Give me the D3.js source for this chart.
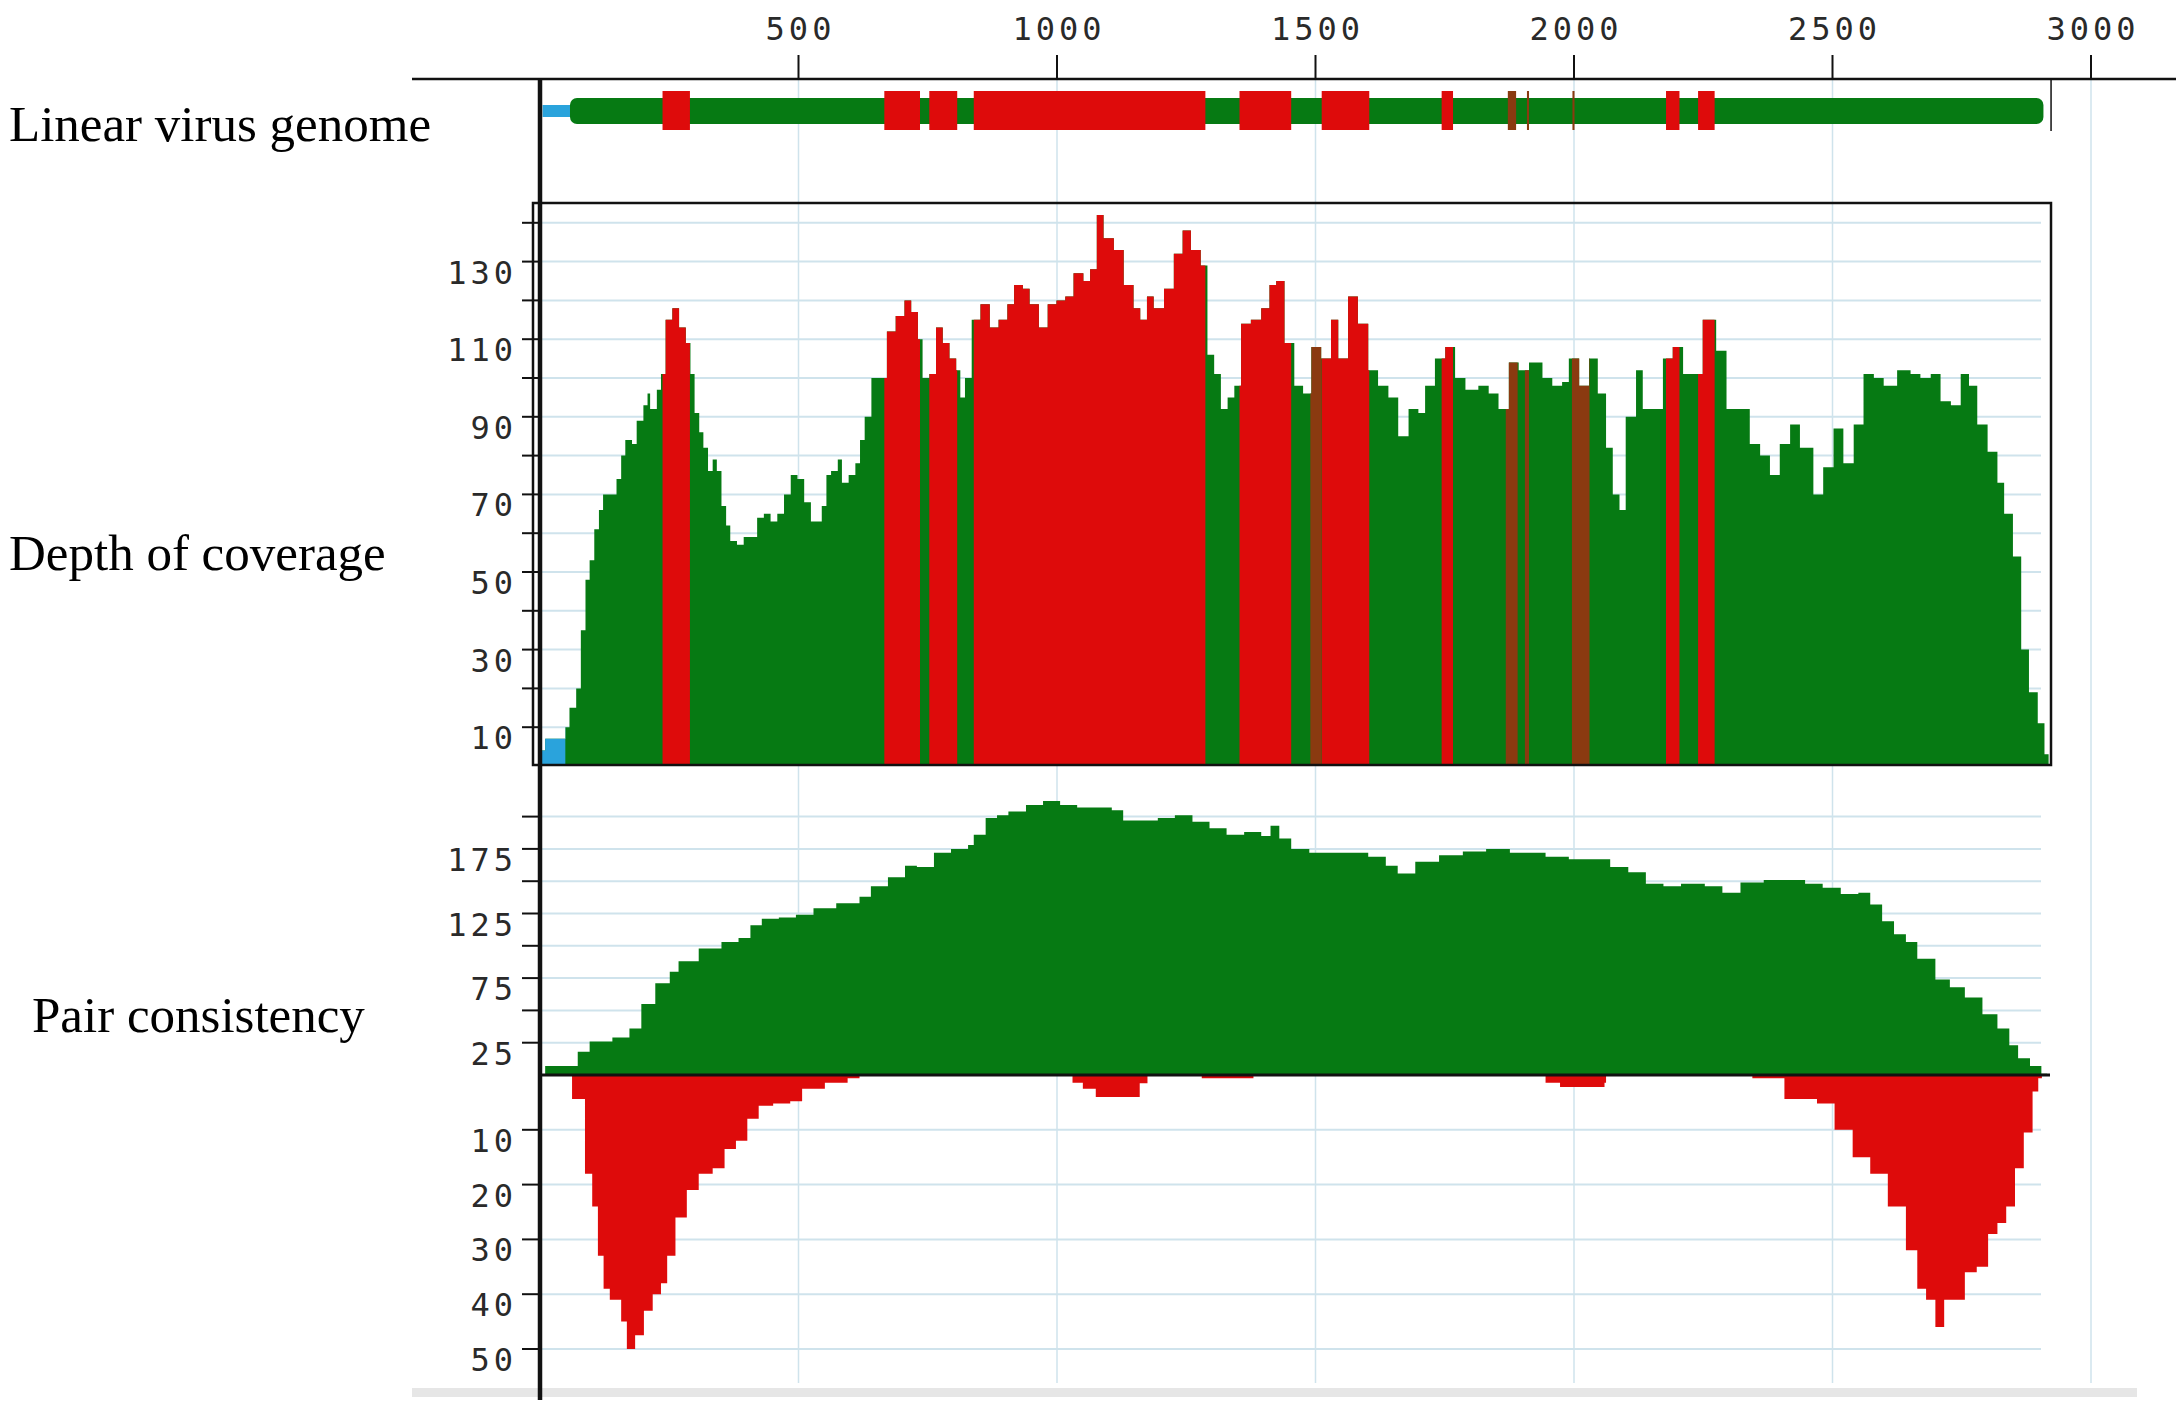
<!DOCTYPE html>
<html><head><meta charset="utf-8">
<script src="https://cdn.jsdelivr.net/npm/d3@7"></script>
<style>html,body{margin:0;padding:0;background:#fff;}svg{display:block;}</style>
</head><body>
<script>
// ---------------- DATA ----------------
const xTickValues = [500, 1000, 1500, 2000, 2500, 3000];
const depthTickValues = [10,20,30,40,50,60,70,80,90,100,110,120,130,140];
const depthTickLabels = [10,30,50,70,90,110,130];
const pairPosTickValues = [25,50,75,100,125,150,175,200];
const pairPosTickLabels = [25,75,125,175];
const pairNegTickValues = [10,20,30,40,50];
const trackTitles = ["Linear virus genome","Depth of coverage","Pair consistency"];

const genomeLength = 2915;
const genomeBlue = [5, 58];
const genomeBody = [58, 2908];
const lowRegions = [[237,290],[666,735],[753,807],[839,1287],[1353,1453],[1512,1604],[1744,1766],[2178,2204],[2240,2272]];
const genomeMarks = [[1872,1888],[1909,1913],[1997,2001]];
const mixedRegions = [[1490,1512],[1868,1891],[1905,1913],[1996,2030]];

const depthPos = [0,10,49,57,70,79,88,96,105,114,122,135,148,157,165,178,187,200,208,213,226,234,243,256,269,282,291,299,308,316,325,334,342,351,360,368,381,394,407,420,433,446,459,472,485,498,511,524,537,545,554,563,576,584,597,610,619,628,641,658,671,688,705,718,731,740,753,766,779,792,805,813,822,835,852,870,887,904,917,934,947,965,982,999,1016,1032,1051,1064,1077,1090,1110,1129,1148,1161,1174,1187,1207,1226,1243,1259,1278,1291,1304,1317,1330,1343,1356,1375,1395,1411,1424,1440,1459,1476,1492,1511,1530,1544,1563,1582,1602,1621,1641,1660,1680,1699,1712,1731,1751,1770,1790,1815,1835,1854,1874,1893,1913,1939,1958,1977,1990,2010,2029,2046,2062,2075,2088,2100,2120,2133,2152,2172,2191,2211,2230,2249,2262,2275,2295,2321,2340,2360,2379,2398,2418,2437,2463,2482,2502,2521,2541,2560,2580,2599,2625,2651,2670,2690,2709,2729,2748,2764,2780,2800,2819,2832,2849,2865,2880,2897,2910,2918];
const depthVal = [4,7,10,15,20,35,48,53,61,66,70,70,74,80,84,83,89,93,96,92,97,101,115,118,113,109,101,91,86,82,76,79,76,67,62,58,57,59,59,64,65,63,65,70,75,74,68,63,63,67,75,76,79,73,75,78,84,90,100,100,112,116,120,117,110,100,101,113,109,105,102,95,100,115,119,113,115,119,124,123,119,113,119,120,121,127,125,128,142,136,133,124,118,115,121,118,123,132,138,133,129,106,101,92,95,98,114,115,118,124,125,109,98,96,108,105,115,105,121,114,102,98,95,85,92,91,98,105,108,100,97,98,96,92,104,102,104,100,98,99,105,98,105,96,82,70,66,90,102,92,92,105,108,101,101,115,115,107,92,92,83,80,75,83,88,82,70,77,87,78,88,101,100,98,102,101,100,101,94,93,101,98,88,81,73,65,54,30,19,11,3,0];

const pairPosX = [0,10,62,73,96,140,173,196,223,251,268,307,351,384,407,429,462,495,529,573,618,640,673,706,729,762,795,828,839,862,884,906,940,973,1006,1039,1073,1106,1128,1162,1195,1228,1262,1295,1328,1362,1395,1413,1430,1453,1488,1522,1556,1602,1636,1659,1693,1739,1785,1830,1876,1910,1945,1990,2036,2070,2105,2139,2173,2207,2253,2287,2322,2367,2413,2447,2481,2516,2550,2573,2596,2619,2642,2664,2699,2727,2756,2790,2819,2842,2859,2882,2904,2915];
const pairPosVal = [0,7,7,18,26,29,36,55,71,80,88,98,103,106,116,121,122,124,129,133,138,146,153,162,161,172,175,178,186,199,201,204,209,212,209,207,207,205,197,197,199,201,196,191,186,188,185,193,183,175,172,172,172,169,162,156,165,170,173,175,172,172,169,167,167,161,157,148,146,148,146,141,149,151,151,148,145,140,141,132,119,109,103,90,74,68,60,47,36,23,13,7,1,0];

const pairNegX = [0,60,62,85,87,101,112,123,135,157,168,184,201,218,234,246,262,284,307,334,357,379,401,423,451,484,507,551,595,618,1006,1030,1050,1075,1140,1160,1175,1278,1280,1378,1380,1944,1945,1973,2047,2059,2062,2344,2345,2405,2407,2470,2504,2539,2573,2607,2642,2664,2681,2699,2716,2739,2756,2779,2801,2819,2836,2853,2870,2887,2898,2905];
const pairNegVal = [0,0,4.4,4.4,18,24,33,39,41,45,50,47.5,43,40,38,33,26,21,18,17,13.5,12,8,5.6,5.2,4.8,2.5,1.4,0.6,0,0,1.4,2.5,4,4,1.5,0,0,0.6,0.6,0,0,1.4,2.2,2.2,1.4,0,0,0.6,0.6,4.4,5.2,10,15,18,24,32,39,41,46,41,41,36,35,29,27,24,17,10.5,3,0.6,0];

// ---------------- LAYOUT ----------------
const W = 2176, H = 1409;
const COL = {green:"#067a13", red:"#de0b0b", brown:"#8a3a10", blue:"#2aa3dc", grid:"#cfe3ec", axis:"#111"};
const svg = d3.select("body").append("svg").attr("width", W).attr("height", H);

const x = d3.scaleLinear().domain([0, 3000]).range([540, 2091]);
const yDepth = d3.scaleLinear().domain([0, 145]).range([766, 203.4]);
const yPairPos = d3.scaleLinear().domain([0, 200]).range([1075, 1075 - 200*1.292]);
const yPairNeg = d3.scaleLinear().domain([0, 50]).range([1075, 1075 + 50*5.48]);

const monoFont = "'DejaVu Sans Mono', monospace";
const tickFont = sel => sel.attr("font-family", monoFont).attr("font-size", 32)
  .attr("letter-spacing", 4).attr("fill", "#2a2a2a");

// vertical grid lines
svg.append("g").selectAll("line").data(xTickValues).join("line")
  .attr("x1", d => x(d)).attr("x2", d => x(d)).attr("y1", 79).attr("y2", 1383)
  .attr("stroke", COL.grid).attr("stroke-width", 1.5);

// horizontal grid lines
svg.append("g").selectAll("line").data(depthTickValues).join("line")
  .attr("x1", 540).attr("x2", 2041).attr("y1", d => yDepth(d)).attr("y2", d => yDepth(d))
  .attr("stroke", COL.grid).attr("stroke-width", 2);
svg.append("g").selectAll("line").data(pairPosTickValues).join("line")
  .attr("x1", 540).attr("x2", 2041).attr("y1", d => yPairPos(d)).attr("y2", d => yPairPos(d))
  .attr("stroke", COL.grid).attr("stroke-width", 2);
svg.append("g").selectAll("line").data(pairNegTickValues).join("line")
  .attr("x1", 540).attr("x2", 2041).attr("y1", d => yPairNeg(d)).attr("y2", d => yPairNeg(d))
  .attr("stroke", COL.grid).attr("stroke-width", 2);

// bottom grey strip
svg.append("rect").attr("x", 412).attr("y", 1388).attr("width", 1725).attr("height", 9).attr("fill", "#e6e6e6");

// ---- top axis ----
svg.append("line").attr("x1", 412).attr("x2", W).attr("y1", 79).attr("y2", 79)
  .attr("stroke", COL.axis).attr("stroke-width", 2.5);
svg.append("g").selectAll("line").data(xTickValues).join("line")
  .attr("x1", d => x(d)).attr("x2", d => x(d)).attr("y1", 55).attr("y2", 79)
  .attr("stroke", COL.axis).attr("stroke-width", 2);
svg.append("g").selectAll("text").data(xTickValues).join("text")
  .attr("x", d => x(d) + 2).attr("y", 31).attr("text-anchor", "middle").attr("dominant-baseline", "middle")
  .call(tickFont).text(d => d);

// ---- genome track ----
const gG = svg.append("g");
gG.append("rect").attr("x", x(genomeBlue[0])).attr("width", x(genomeBlue[1]) - x(genomeBlue[0]))
  .attr("y", 105).attr("height", 12).attr("fill", COL.blue);
gG.append("rect").attr("x", x(genomeBody[0])).attr("width", x(genomeBody[1]) - x(genomeBody[0]))
  .attr("y", 98).attr("height", 26).attr("rx", 7).attr("fill", COL.green);
gG.selectAll("rect.low").data(lowRegions).join("rect").attr("class", "low")
  .attr("x", d => x(d[0])).attr("width", d => x(d[1]) - x(d[0]))
  .attr("y", 91).attr("height", 39).attr("fill", COL.red);
gG.selectAll("rect.mark").data(genomeMarks).join("rect").attr("class", "mark")
  .attr("x", d => x(d[0])).attr("width", d => x(d[1]) - x(d[0]))
  .attr("y", 91).attr("height", 39).attr("fill", COL.brown);
gG.append("line").attr("x1", x(genomeLength) + 4).attr("x2", x(genomeLength) + 4).attr("y1", 79).attr("y2", 131)
  .attr("stroke", COL.axis).attr("stroke-width", 1.5);

// ---- depth of coverage ----
const defs = svg.append("defs");
function clipFor(id, ranges, y0, y1) {
  const cp = defs.append("clipPath").attr("id", id);
  ranges.forEach(r => cp.append("rect").attr("x", x(r[0])).attr("width", x(r[1]) - x(r[0]))
    .attr("y", y0).attr("height", y1 - y0));
}
clipFor("clipLow", lowRegions, 150, 800);
clipFor("clipMix", mixedRegions, 150, 800);
clipFor("clipBlue", [[0, 49]], 150, 800);

const depthData = depthPos.map((p, i) => ({p, v: depthVal[i]}));
const depthArea = d3.area().curve(d3.curveStepAfter)
  .x(d => x(d.p)).y0(yDepth(0)).y1(d => yDepth(d.v));
const dg = svg.append("g");
dg.append("path").datum(depthData).attr("d", depthArea).attr("fill", COL.green);
dg.append("path").datum(depthData).attr("d", depthArea).attr("fill", COL.red).attr("clip-path", "url(#clipLow)");
dg.append("path").datum(depthData).attr("d", depthArea).attr("fill", COL.brown).attr("clip-path", "url(#clipMix)");
dg.append("path").datum(depthData).attr("d", depthArea).attr("fill", COL.blue).attr("clip-path", "url(#clipBlue)");

svg.append("rect").attr("x", 533).attr("y", 203).attr("width", 2051 - 533).attr("height", 765 - 203)
  .attr("fill", "none").attr("stroke", COL.axis).attr("stroke-width", 2.5);

svg.append("g").selectAll("line").data(depthTickValues).join("line")
  .attr("x1", 522).attr("x2", 540).attr("y1", d => yDepth(d)).attr("y2", d => yDepth(d))
  .attr("stroke", COL.axis).attr("stroke-width", 2);
svg.append("g").selectAll("text").data(depthTickLabels).join("text")
  .attr("x", 517).attr("y", d => yDepth(d) + 13).attr("text-anchor", "end").attr("dominant-baseline", "middle")
  .call(tickFont).text(d => d);

// ---- pair consistency ----
const posData = pairPosX.map((p, i) => ({p, v: pairPosVal[i]}));
const negData = pairNegX.map((p, i) => ({p, v: pairNegVal[i]}));
svg.append("path").datum(posData)
  .attr("d", d3.area().curve(d3.curveStepAfter).x(d => x(d.p)).y0(yPairPos(0)).y1(d => yPairPos(d.v)))
  .attr("fill", COL.green);
svg.append("path").datum(negData)
  .attr("d", d3.area().curve(d3.curveStepAfter).x(d => x(d.p)).y0(yPairNeg(0)).y1(d => yPairNeg(d.v)))
  .attr("fill", COL.red);
svg.append("line").attr("x1", 540).attr("x2", 2050).attr("y1", yPairPos(0)).attr("y2", yPairPos(0))
  .attr("stroke", COL.axis).attr("stroke-width", 3);

svg.append("g").selectAll("line").data(pairPosTickValues).join("line")
  .attr("x1", 522).attr("x2", 540).attr("y1", d => yPairPos(d)).attr("y2", d => yPairPos(d))
  .attr("stroke", COL.axis).attr("stroke-width", 2);
svg.append("g").selectAll("line").data(pairNegTickValues).join("line")
  .attr("x1", 522).attr("x2", 540).attr("y1", d => yPairNeg(d)).attr("y2", d => yPairNeg(d))
  .attr("stroke", COL.axis).attr("stroke-width", 2);
svg.append("g").selectAll("text").data(pairPosTickLabels).join("text")
  .attr("x", 517).attr("y", d => yPairPos(d) + 13).attr("text-anchor", "end").attr("dominant-baseline", "middle")
  .call(tickFont).text(d => d);
svg.append("g").selectAll("text").data(pairNegTickValues).join("text")
  .attr("x", 517).attr("y", d => yPairNeg(d) + 13).attr("text-anchor", "end").attr("dominant-baseline", "middle")
  .call(tickFont).text(d => d);

// left vertical axis
svg.append("line").attr("x1", 540).attr("x2", 540).attr("y1", 79).attr("y2", 1400)
  .attr("stroke", COL.axis).attr("stroke-width", 4.5);

// ---- track titles ----
const titleX = [9, 9, 32];
const titleY = [141, 570, 1032];
svg.append("g").selectAll("text").data(trackTitles).join("text")
  .attr("x", (d, i) => titleX[i]).attr("y", (d, i) => titleY[i])
  .attr("font-family", "'Liberation Serif', 'Times New Roman', serif").attr("font-size", 51).attr("fill", "#000")
  .text(d => d);
</script>
</body></html>
